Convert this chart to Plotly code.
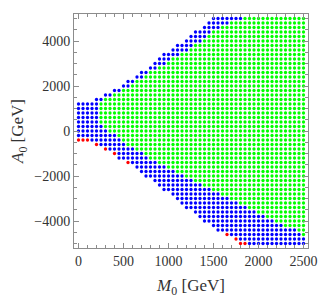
import plotly.graph_objects as go

# Grid columns (M0 in GeV)
M0_COLUMNS = [0, 50, 100, 150, 200, 250, 300, 350, 400, 450, 500, 550, 600, 650, 700,
              750, 800, 850, 900, 950, 1000, 1050, 1100, 1150, 1200, 1250, 1300, 1350,
              1400, 1450, 1500, 1550, 1600, 1650, 1700, 1750, 1800, 1850, 1900, 1950,
              2000, 2050, 2100, 2150, 2200, 2250, 2300, 2350, 2400, 2450, 2500]

# Grid rows (A0 in GeV), top to bottom
A0_ROWS = [5000, 4800, 4600, 4400, 4200, 4000, 3800, 3600, 3400, 3200, 3000, 2800,
           2600, 2400, 2200, 2000, 1800, 1600, 1400, 1200, 1000, 800, 600, 400, 200, 0,
           -200, -400, -600, -800, -1000, -1200, -1400, -1600, -1800, -2000, -2200,
           -2400, -2600, -2800, -3000, -3200, -3400, -3600, -3800, -4000, -4200, -4400,
           -4600, -4800, -5000]

# Smallest M0 present in each row
ROW_LEFT_M0 = [1500, 1450, 1400, 1300, 1250, 1200, 1100, 1050, 950, 900, 850, 800,
               700, 650, 550, 500, 400, 300, 200, 0, 0, 0, 0, 0, 0, 0,
               0, 0, 200, 300, 400, 450, 550, 650, 700, 750, 850,
               900, 950, 1050, 1100, 1150, 1200, 1300, 1350, 1400, 1500, 1550,
               1650, 1750, 1800]

# First M0 in each row that is green (None: whole row blue)
ROW_GREEN_FROM_M0 = [1850, 1700, 1600, 1500, 1450, 1400, 1300, 1250, 1150, 1050, 1000, 900,
                     800, 750, 650, 600, 500, 400, 300, 250, 250, 250, 250, 250, 300, 350,
                     450, 500, 550, 650, 750, 800, 900, 1000, 1100, 1200, 1300,
                     1400, 1500, 1600, 1700, 1800, 1900, 2000, 2100, 2200, 2300, 2450,
                     2500, None, None]

# Red points
RED_M0 = [0, 50, 100, 200, 300, 400, 550, 1650, 1750, 1800, 1850]
RED_A0 = [-400, -400, -400, -600, -800, -1000, -1400, -4600, -4800, -5000, -5000]

red_set = set(zip(RED_M0, RED_A0))
pts = {"blue": ([], []), "green": ([], []), "red": ([], [])}
for a0, left, gfrom in zip(A0_ROWS, ROW_LEFT_M0, ROW_GREEN_FROM_M0):
    for m0 in M0_COLUMNS:
        if m0 < left:
            continue
        if (m0, a0) in red_set:
            key = "red"
        elif gfrom is not None and m0 >= gfrom:
            key = "green"
        else:
            key = "blue"
        pts[key][0].append(m0)
        pts[key][1].append(a0)

colors = {"green": "#00ff00", "blue": "#0000ff", "red": "#ff0000"}
fig = go.Figure()
for key in ["green", "blue", "red"]:
    fig.add_trace(go.Scatter(x=pts[key][0], y=pts[key][1], mode="markers",
                             marker=dict(size=3.3, color=colors[key], line=dict(width=0)),
                             showlegend=False, hoverinfo="skip"))

frame = "#8c8c8c"
txt = "#333333"
font = dict(family="Liberation Serif", size=14, color=txt)
# The page body has an 8px default margin; margins below compensate for it.
fig.update_layout(
    width=332, height=303,
    margin=dict(l=66, r=32, t=6, b=63),
    plot_bgcolor="white", paper_bgcolor="white",
    font=font,
    xaxis=dict(range=[-50, 2550], tickvals=[0, 500, 1000, 1500, 2000, 2500],
               ticks="inside", ticklen=5, tickwidth=1, tickcolor=frame,
               showline=True, linecolor=frame, linewidth=1, mirror="ticks",
               showgrid=False, zeroline=False, automargin=False,
               tickfont=font,
               minor=dict(ticks="inside", dtick=100, tick0=0, ticklen=3, tickcolor=frame, showgrid=False),
               title=dict(text="<i>M</i><sub>0</sub> [GeV]", font=dict(family="Liberation Serif", size=17, color=txt), standoff=11)),
    yaxis=dict(range=[-5200, 5200], tickvals=[-4000, -2000, 0, 2000, 4000],
               ticks="inside", ticklen=5, tickwidth=1, tickcolor=frame,
               showline=True, linecolor=frame, linewidth=1, mirror="ticks",
               showgrid=False, zeroline=False, automargin=False,
               tickfont=font,
               minor=dict(ticks="inside", dtick=500, tick0=0, ticklen=3, tickcolor=frame, showgrid=False),
               title=dict(text="<i>A</i><sub>0</sub> [GeV]", font=dict(family="Liberation Serif", size=17, color=txt), standoff=6)),
)
fig.write_html("out.html")
